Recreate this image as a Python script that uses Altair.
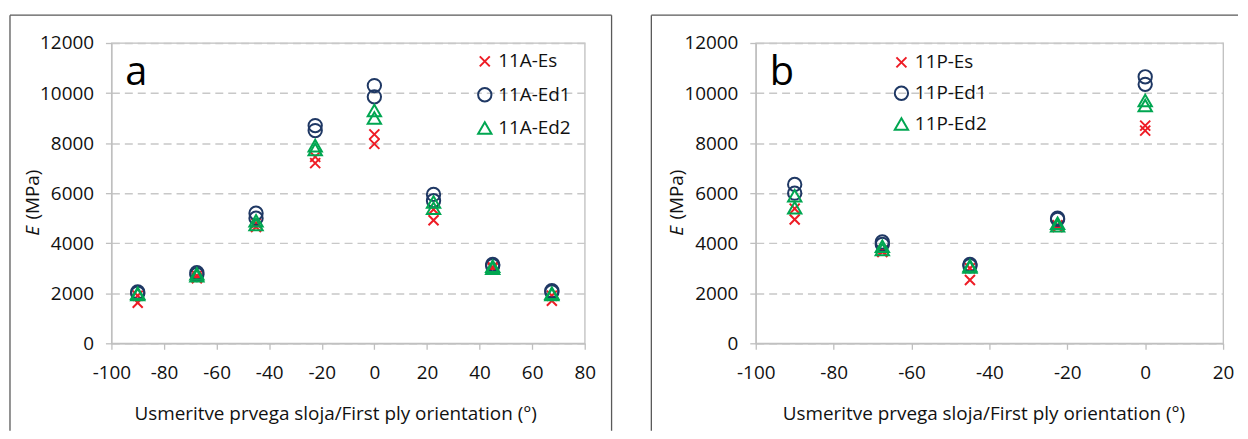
import altair as alt
import pandas as pd

# ---------------- data ----------------
ANGLES_A = [-90, -67.5, -45, -22.5, 0, 22.5, 45, 67.5]
A_ES_1 = [1620, 2600, 4650, 7200, 7970, 4920, 3050, 1700]
A_ES_2 = [1900, 2700, 4800, 7450, 8350, 5350, 3000, 1900]
A_ED1_1 = [2050, 2820, 5200, 8700, 10300, 5950, 3150, 2100]
A_ED1_2 = [2000, 2750, 5000, 8500, 9850, 5700, 3100, 2050]
A_ED2_1 = [2000, 2780, 4900, 7900, 9300, 5650, 3080, 2000]
A_ED2_2 = [1950, 2700, 4750, 7750, 9000, 5400, 3000, 1950]
SERIES_A = ["11A-Es", "11A-Ed1", "11A-Ed2"]

ANGLES_B = [-90, -67.5, -45, -22.5, 0]
B_ES_1 = [4950, 3650, 2530, 4650, 8500]
B_ES_2 = [5380, 3700, 3000, 4720, 8700]
B_ED1_1 = [6350, 4050, 3150, 5000, 10650]
B_ED1_2 = [6000, 3950, 3100, 4950, 10350]
B_ED2_1 = [5900, 3880, 3100, 4800, 9700]
B_ED2_2 = [5420, 3750, 3050, 4700, 9500]
SERIES_B = ["11P-Es", "11P-Ed1", "11P-Ed2"]

XTICKS_A = [-100, -80, -60, -40, -20, 0, 20, 40, 60, 80]
XTICKS_B = [-100, -80, -60, -40, -20, 0, 20]
YTICKS = [0, 2000, 4000, 6000, 8000, 10000, 12000]
XTITLE = "Usmeritve prvega sloja/First ply orientation (°)"


def build(angles, groups, names):
    rows = []
    for name, lists in zip(names, groups):
        for vals in lists:
            for a, v in zip(angles, vals):
                rows.append({"angle": a, "E": v, "series": name})
    return pd.DataFrame(rows)


df_a = build(ANGLES_A, [[A_ES_1, A_ES_2], [A_ED1_1, A_ED1_2], [A_ED2_1, A_ED2_2]], SERIES_A)
df_b = build(ANGLES_B, [[B_ES_1, B_ES_2], [B_ED1_1, B_ED1_2], [B_ED2_1, B_ED2_2]], SERIES_B)

X_PATH = "M-0.75,-0.75L0.75,0.75M-0.75,0.75L0.75,-0.75"
COLORS = ["#ee1c25", "#1f3864", "#00a651"]
SHAPES = [X_PATH, "circle", "triangle-up"]
FONT = "Open Sans"
FS = 19
TXT = "#111111"
FRAME = "#595959"
H = 302
one = pd.DataFrame({"k": [0]})


def panel(df, names, xdom, xticks, letter, lx, ly, rowpad, title_x, fl, fr, right_edge):
    leg = alt.Legend(orient="none", legendX=lx, legendY=ly, title=None,
                     rowPadding=rowpad, symbolSize=180, symbolStrokeWidth=2,
                     symbolOpacity=1, labelFontSize=FS, labelFont=FONT,
                     labelColor=TXT, padding=0, labelOffset=4)
    pts = alt.Chart(df).mark_point(filled=False, strokeWidth=2, size=180, opacity=1).encode(
        x=alt.X("angle:Q",
                scale=alt.Scale(domain=xdom, nice=False, zero=False),
                axis=alt.Axis(values=xticks, title=XTITLE, titleX=title_x, titleY=77,
                              titleBaseline="alphabetic", titleAlign="center",
                              grid=False, tickSize=6, labelPadding=14,
                              labelFlush=False, labelOverlap=False,
                              labelExpr="'' + datum.value")),
        y=alt.Y("E:Q",
                scale=alt.Scale(domain=[0, 12000], nice=False),
                axis=alt.Axis(values=YTICKS, title=None, grid=True, gridDash=[8, 5],
                              gridColor="#c8c8c8", gridWidth=1.5, tickSize=6,
                              labelPadding=12, labelOverlap=False, labelFlush=False,
                              labelExpr="'' + datum.value")),
        color=alt.Color("series:N", scale=alt.Scale(domain=names, range=COLORS), legend=leg),
        shape=alt.Shape("series:N", scale=alt.Scale(domain=names, range=SHAPES), legend=leg),
    )
    base1 = alt.Chart(one)
    let = base1.mark_text(font=FONT, fontSize=40, align="left", baseline="alphabetic",
                          color="#000000").encode(
        x=alt.value(14), y=alt.value(42), text=alt.value(letter))
    ytl = base1.mark_text(font=FONT, fontSize=FS, angle=270, align="center",
                          baseline="alphabetic", color=TXT).encode(
        x=alt.value(-73), y=alt.value(152.5), text=alt.value("(MPa)"))
    ye = base1.mark_text(font=FONT, fontSize=FS, angle=270, align="center",
                         baseline="alphabetic", fontStyle="italic", color=TXT).encode(
        x=alt.value(-73), y=alt.value(189), text=alt.value("E"))
    layers = [pts, let, ytl, ye]
    # chart-area frame
    layers.append(base1.mark_rule(color=FRAME, strokeWidth=1.3).encode(
        x=alt.value(fl), x2=alt.value(fr), y=alt.value(-28)))
    layers.append(base1.mark_rule(color=FRAME, strokeWidth=1.3).encode(
        x=alt.value(fl), y=alt.value(-28), y2=alt.value(390)))
    if right_edge:
        layers.append(base1.mark_rule(color=FRAME, strokeWidth=1.3).encode(
            x=alt.value(fr), y=alt.value(-28), y2=alt.value(390)))
    return layers


la = panel(df_a, SERIES_A, [-100, 80], XTICKS_A, "a", 366, 9, 11.5, 225, -102, 503, True)
chart_a = alt.layer(*la).properties(width=476, height=H)

lb = panel(df_b, SERIES_B, [-100, 20], XTICKS_B, "b", 137, 10, 9, 229, -105, 485, False)
chart_b = alt.layer(*lb).properties(width=470, height=H)

chart = alt.hconcat(chart_a, chart_b, spacing=36).resolve_scale(
    color="independent", shape="independent"
).properties(
    padding={"left": 0, "top": 4, "right": 0, "bottom": 0},
    background="white",
).configure_axis(
    labelFont=FONT, labelFontSize=FS, labelColor=TXT,
    titleFont=FONT, titleFontSize=FS, titleFontWeight="normal", titleColor=TXT,
    domainColor="#bfbfbf", domainWidth=1.3, tickColor="#bfbfbf", tickWidth=1.3,
).configure_view(
    stroke="#bfbfbf", strokeWidth=1.3
)

chart.save("out.html", embed_options={"renderer": "svg", "actions": False})
